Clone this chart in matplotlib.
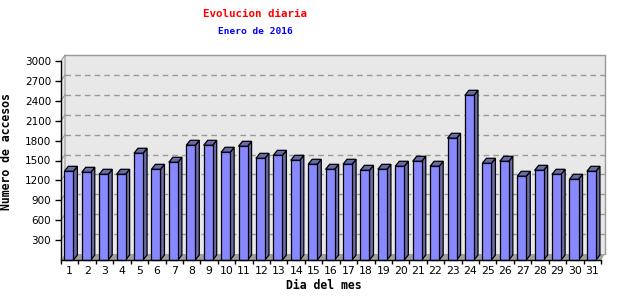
import matplotlib
matplotlib.use('Agg')
import matplotlib.pyplot as plt
from matplotlib.patches import Polygon, Rectangle
import numpy as np

# daily visits, January 2016
days = list(range(1, 32))
accesos = [1337, 1322, 1292, 1292, 1609, 1367, 1473, 1729, 1729, 1624,
           1714, 1533, 1578, 1503, 1443, 1367, 1443, 1352, 1367, 1413,
           1488, 1413, 1835, 2483, 1458, 1488, 1262, 1352, 1292, 1217,
           1337]
yticks = list(range(300, 3001, 300))

title = 'Evolucion diaria'
subtitle = 'Enero de 2016'
xlabel = 'Dia del mes'
ylabel = 'Numero de accesos'

W, H = 640, 300
fig = plt.figure(figsize=(W / 100, H / 100), dpi=100)
ax = fig.add_axes([61 / W, 40 / H, 540 / W, 199 / H])
ax.set_xlim(0.5, 31.5)
ax.set_ylim(0, 3000)
ax.set_facecolor('none')

# pixel -> data conversion for the fake 3d depth
px_x = 31 / 540
px_y = 3000 / 199
wdx, wdy = 4 * px_x, 6 * px_y   # back wall offset
bdx, bdy = 4 * px_x, 5 * px_y   # bar depth

x0, x1 = 0.5, 31.5
# back wall + left wall
wall = Polygon([(x0, 0), (x0, 3000), (x0 + wdx, 3000 + wdy), (x1 + wdx, 3000 + wdy),
                (x1 + wdx, wdy), (x1, 0)], closed=True, facecolor='#e8e8e8',
               edgecolor='none', clip_on=False, zorder=0)
ax.add_patch(wall)
ax.plot([x0 + wdx, x1 + wdx, x1 + wdx], [3000 + wdy, 3000 + wdy, wdy],
        color='#999999', lw=1, clip_on=False, zorder=1)
ax.plot([x0, x0 + wdx, x0 + wdx], [3000, 3000 + wdy, wdy],
        color='#999999', lw=0.8, clip_on=False, zorder=1)
# floor
floor = Polygon([(x0, 0), (x1, 0), (x1 + wdx, wdy), (x0 + wdx, wdy)], closed=True,
                facecolor='#a0a0a0', edgecolor='none', clip_on=False, zorder=1)
ax.add_patch(floor)

# grid on the back wall
for v in yticks[:-1]:
    ax.plot([x0 + wdx, x1 + wdx], [v + wdy, v + wdy], color='#999999', lw=1,
            linestyle=(0, (4, 3)), clip_on=False, zorder=1)
    ax.plot([x0, x0 + wdx], [v, v + wdy], color='#999999', lw=0.8,
            clip_on=False, zorder=1)

# bars
bw = 0.52
front_c = '#8888ff'
dark_c = '#6a6aa6'
for d, v in zip(days, accesos):
    left = d - 0.31
    right = left + bw
    side = Polygon([(right, 0), (right + bdx, bdy), (right + bdx, v + bdy), (right, v)],
                   closed=True, facecolor=dark_c, edgecolor='black', lw=0.9,
                   clip_on=False, zorder=3)
    top = Polygon([(left, v), (right, v), (right + bdx, v + bdy), (left + bdx, v + bdy)],
                  closed=True, facecolor=dark_c, edgecolor='black', lw=0.9,
                  clip_on=False, zorder=3)
    front = Rectangle((left, 0), bw, v, facecolor=front_c, edgecolor='black',
                      lw=0.9, clip_on=False, zorder=4)
    ax.add_patch(side)
    ax.add_patch(top)
    ax.add_patch(front)

# axes
for s in ['top', 'right']:
    ax.spines[s].set_visible(False)
for s in ['left', 'bottom']:
    ax.spines[s].set_color('black')
    ax.spines[s].set_linewidth(1)
    ax.spines[s].set_zorder(5)

ax.set_yticks(yticks)
ax.set_yticklabels([str(v) for v in yticks])
ax.set_xticks(days)
ax.set_xticklabels([str(d) for d in days])
ax.set_xticks(np.arange(0.5, 32, 1), minor=True)
ax.tick_params(axis='y', direction='out', length=4, width=1, pad=3,
               labelsize=7.5, colors='black')
ax.tick_params(axis='x', which='major', length=0, pad=4, labelsize=7.8)
ax.tick_params(axis='x', which='minor', direction='out', length=3, width=1)

ax.set_xlabel(xlabel, fontsize=8.3, fontweight='bold', family='DejaVu Sans Mono',
              labelpad=0)
ax.xaxis.set_label_coords((324 - 61) / 540, -19 / 199)
ax.set_ylabel(ylabel, fontsize=8.3, fontweight='bold', family='DejaVu Sans Mono')
ax.yaxis.set_label_coords(-(61 - 13) / 540, (260 - 152) / 199)

fig.text(255 / W, 1 - 14 / H, title, color='red', fontsize=7.8, fontweight='bold',
         family='DejaVu Sans Mono', ha='center', va='center')
fig.text(255 / W, 1 - 32 / H, subtitle, color='blue', fontsize=6.8, fontweight='bold',
         family='DejaVu Sans Mono', ha='center', va='center')

fig.savefig('out.png', dpi=100)
